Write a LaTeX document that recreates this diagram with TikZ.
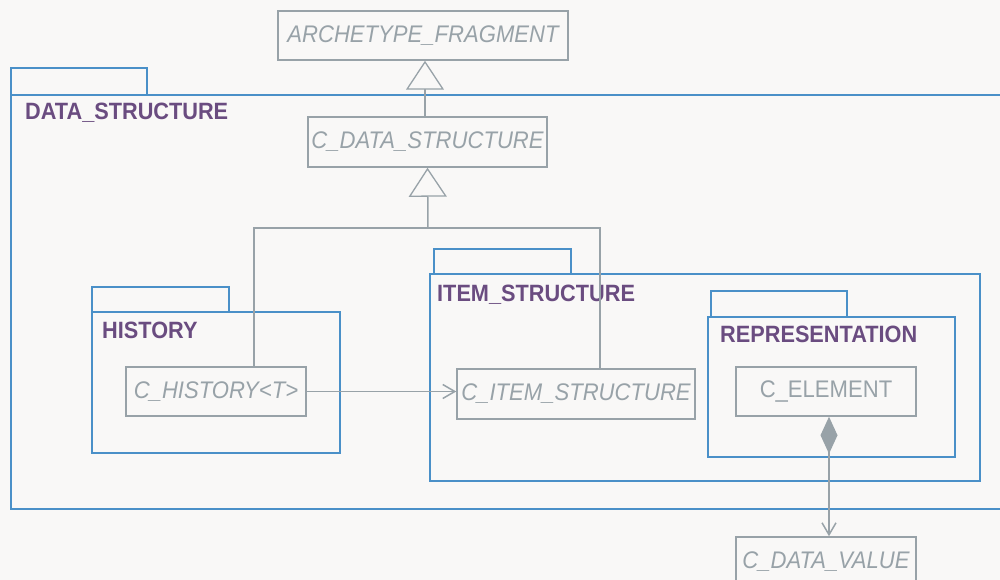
\documentclass[tikz,border=0pt]{standalone}
\usepackage{fontspec}
\setmainfont[FakeStretch=0.92]{Liberation Sans}
\usetikzlibrary{arrows.meta}
\definecolor{bg}{HTML}{F9F8F7}
\definecolor{pkgblue}{HTML}{4A90C8}
\definecolor{clsgray}{HTML}{98A2A8}
\definecolor{pkgpurple}{HTML}{6A4C80}
\begin{document}
\begin{tikzpicture}[x=1pt,y=-1pt,
 pkgbox/.style={draw=pkgblue,line width=1.6pt,anchor=north west,inner sep=0pt,outer sep=0pt},
 pkglabel/.style={anchor=base west,inner sep=0pt,text=pkgpurple,font=\fontsize{23.6}{26}\selectfont\bfseries},
 cls/.style={draw=clsgray,line width=1.5pt,fill=bg,text=clsgray,font=\fontsize{24}{26}\selectfont\itshape,inner sep=0pt,minimum height=49pt},
 conn/.style={draw=clsgray,line width=1.5pt},
 gen/.style={conn,-{Triangle[open,length=29pt,width=38pt,fill=bg,line width=1.3pt]}},
 dep/.style={conn,-{Straight Barb[length=12pt,width=14pt]}},
 comp/.style={conn,{Diamond[length=37pt,width=17pt,fill=clsgray]}-{Straight Barb[length=12pt,width=14pt]}}
]
\useasboundingbox[fill=bg] (0,0) rectangle (1000,580);

% packages
\node[pkgbox,minimum width=136pt,minimum height=27pt] (dstab) at (11,68) {};
\node[pkgbox,minimum width=1000pt,minimum height=414pt] (ds) at (11,95) {};
\node[pkglabel] (dsl) at (25,120) {DATA\_STRUCTURE};

\node[pkgbox,minimum width=137pt,minimum height=25pt] (histab) at (92,287) {};
\node[pkgbox,minimum width=248pt,minimum height=141pt] (his) at (92,312) {};
\node[pkglabel] (hisl) at (102,338) {HISTORY};

\node[pkgbox,minimum width=137pt,minimum height=25pt] (istab) at (434,249) {};
\node[pkgbox,minimum width=550pt,minimum height=207pt] (is) at (430,274) {};
\node[pkglabel] (isl) at (437,301) {ITEM\_STRUCTURE};

\node[pkgbox,minimum width=136pt,minimum height=26pt] (reptab) at (711,291) {};
\node[pkgbox,minimum width=247pt,minimum height=140pt] (rep) at (708,317) {};
\node[pkglabel] (repl) at (720,342) {REPRESENTATION};

% classes
\node[cls,minimum width=290pt] (af) at (423,35.5) {ARCHETYPE\_FRAGMENT};
\node[cls,minimum width=239pt,minimum height=50pt] (cds) at (427.5,142) {C\_DATA\_STRUCTURE};
\node[cls,minimum width=180pt] (ch) at (216,391.5) {C\_HISTORY<T>};
\node[cls,minimum width=238pt,minimum height=50pt] (cis) at (576,394) {C\_ITEM\_STRUCTURE};
\node[cls,minimum width=180pt,font=\fontsize{24}{26}\selectfont\upshape] (ce) at (826,391.5) {C\_ELEMENT};
\node[cls,minimum width=180pt,minimum height=50pt] (cdv) at (826,562) {C\_DATA\_VALUE};

% connectors
\coordinate (j) at (428,228);
\draw[gen] ([xshift=-2.5pt]cds.north) -- ([xshift=2pt]af.south);
\draw[gen] (j) -- (cds.south);
\draw[conn] ([xshift=38pt]ch.north) |- (j);
\draw[conn] ([xshift=24pt]cis.north) |- (j);
\draw[dep] (ch.east) -- (ch.east -| cis.west);
\draw[comp] ([xshift=3pt]ce.south) -- ([xshift=3pt]cdv.north);
\end{tikzpicture}
\end{document}
